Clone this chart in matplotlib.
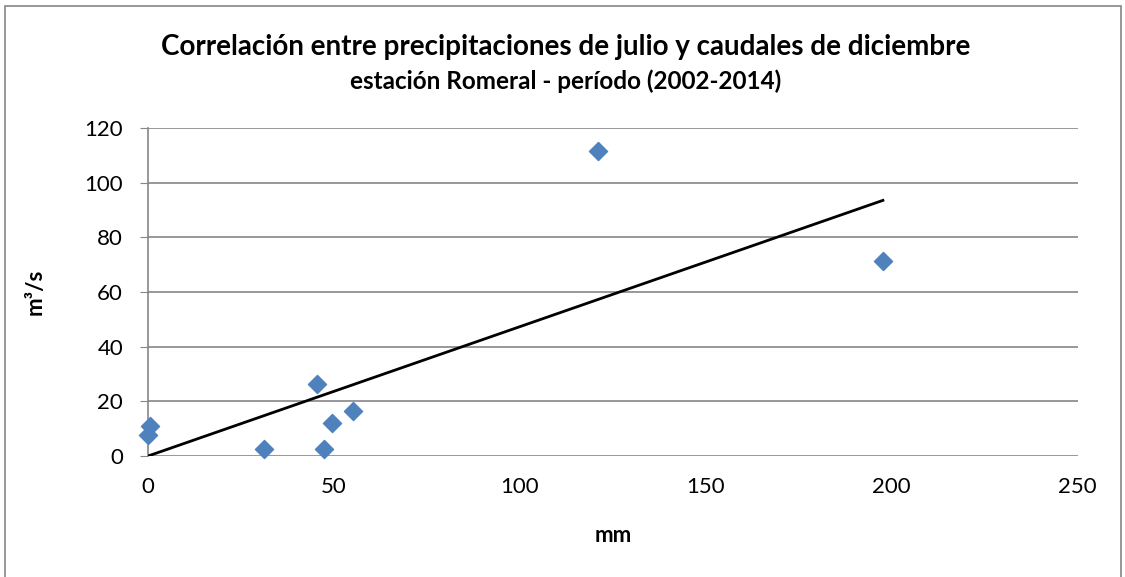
import numpy as np
import matplotlib.pyplot as plt
from matplotlib.patches import Rectangle

# precipitacion julio (mm) vs caudal diciembre (m3/s)
precip = [0.0, 0.5, 31.2, 45.4, 47.3, 49.5, 55.1, 121.0, 197.6]
caudal = [7.7, 11.0, 2.6, 26.3, 2.6, 12.1, 16.5, 111.6, 71.3]

x_ticks = [0, 50, 100, 150, 200, 250]
y_ticks = [0, 20, 40, 60, 80, 100, 120]

plt.rcParams['font.family'] = ['Lato', 'DejaVu Sans']

x = np.array(precip)
y = np.array(caudal)
# linear trend forced through origin
slope = np.sum(x * y) / np.sum(x * x)
xt = np.array([x.min(), x.max()])

fig = plt.figure(figsize=(11.25, 5.77), dpi=100)
ax = fig.add_axes([0.1316, 0.2097, 0.8264, 0.5684])

ax.set_xlim(0, 250)
ax.set_ylim(0, 120)
ax.set_xticks(x_ticks)
ax.set_yticks(y_ticks)
ax.yaxis.grid(True, color='#868686', lw=1.2)
ax.set_axisbelow(True)

ax.plot(xt, slope * xt, color='black', lw=2, zorder=3)
ax.scatter(x, y, marker='D', s=85, color='#4F81BD', zorder=4, clip_on=False)

for s in ['top', 'right', 'bottom']:
    ax.spines[s].set_visible(False)
ax.spines['left'].set_color('#868686')
ax.spines['left'].set_linewidth(1.2)
ax.tick_params(axis='y', length=6, color='#868686', labelsize=16, pad=12)
ax.tick_params(axis='x', length=0, labelsize=16, pad=15)

ax.set_xlabel('mm', fontsize=16, fontweight='bold', labelpad=20)
ax.set_ylabel('m³/s', fontsize=16, fontweight='bold', labelpad=28)

fig.text(0.503, 0.918, 'Correlación entre precipitaciones de julio y caudales de diciembre',
         ha='center', va='center', fontsize=20, fontweight='bold')
fig.text(0.503, 0.86, 'estación Romeral - período (2002-2014)',
         ha='center', va='center', fontsize=17.5, fontweight='bold')

fig.patches.append(Rectangle((0.004, -0.01), 0.992, 1.0, transform=fig.transFigure,
                             fill=False, edgecolor='#868686', lw=1.2))

fig.savefig('out.png', dpi=100)
